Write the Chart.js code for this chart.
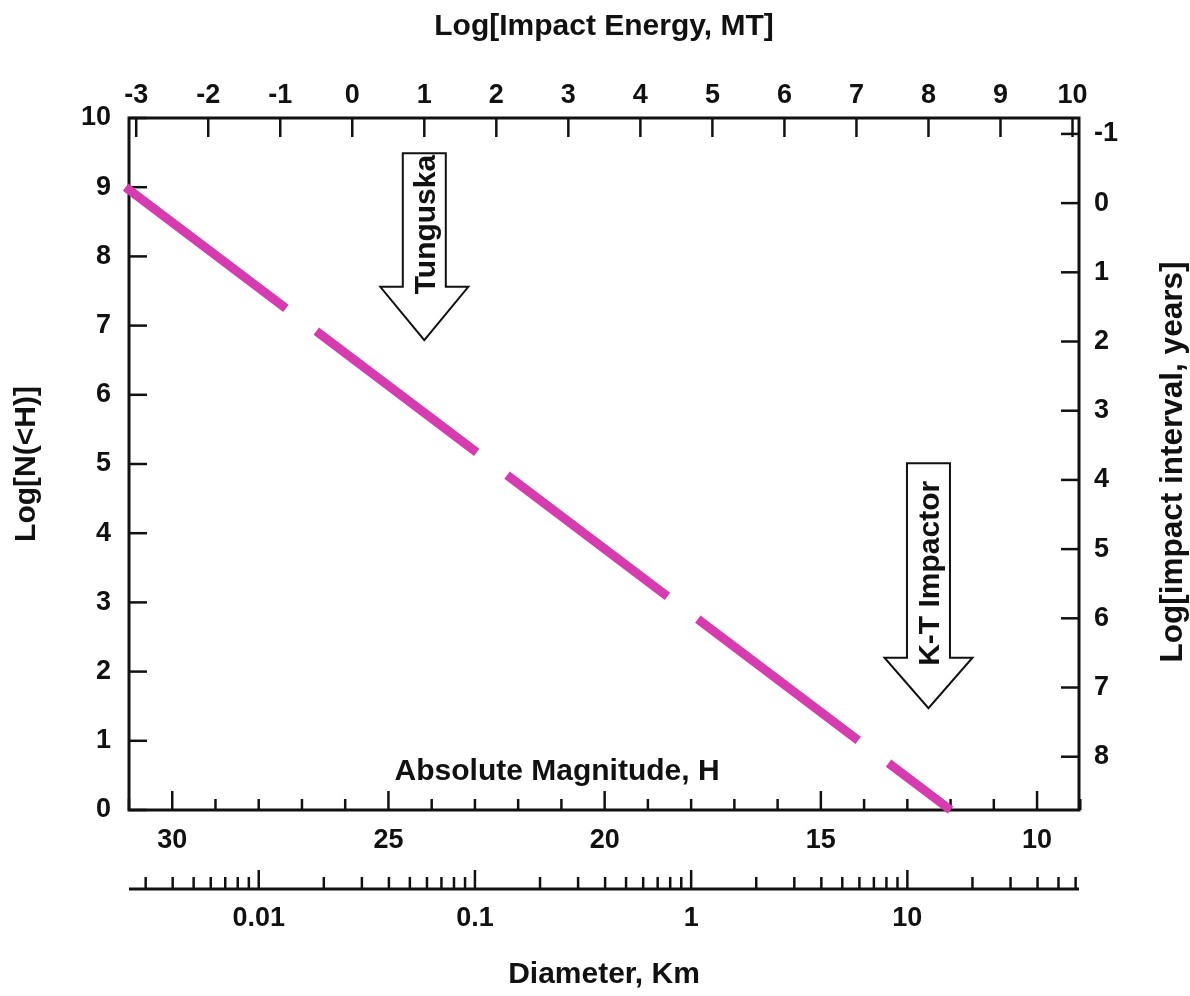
<!DOCTYPE html>
<html>
<head>
<meta charset="utf-8">
<title>Impact frequency vs magnitude</title>
<script src="https://cdn.jsdelivr.net/npm/chart.js@4/dist/chart.umd.min.js"></script>
<style>
  html, body { margin: 0; padding: 0; background: #fff; }
  #chart { display: block; }
</style>
</head>
<body>
<canvas id="chart" width="1190" height="996"></canvas>
<script>
(function() {
  'use strict';
  // absolute magnitude H (bottom axis, large values on the left)
  const magnitudeMin = 9.03;
  const magnitudeMax = 31;
  const magnitudeTicks = [30, 25, 20, 15, 10];
  const magnitudeMinorTicks = [31, 29, 28, 27, 26, 24, 23, 22, 21, 19, 18, 17, 16, 14, 13, 12, 11, 9];
  // diameter in km (second bottom axis, log)
  const diameterMin = 0.002512;
  const diameterMax = 62.2;
  const diameterTicks = [0.01, 0.1, 1, 10];
  const diameterLabels = ['0.01', '0.1', '1', '10'];
  const diameterMinorSteps = [2, 3, 4, 5, 6, 7, 8, 9];
  // impact energy (top axis)
  const energyMin = -3.1;
  const energyMax = 10.09;
  const energyTicks = [-3, -2, -1, 0, 1, 2, 3, 4, 5, 6, 7, 8, 9, 10];
  // cumulative number (left axis)
  const countTicks = [0, 1, 2, 3, 4, 5, 6, 7, 8, 9, 10];
  // impact interval (right axis, increasing downward)
  const intervalMin = -1.23;
  const intervalMax = 8.77;
  const intervalTicks = [-1, 0, 1, 2, 3, 4, 5, 6, 7, 8];
  // dashed trend line: H and Log N
  const lineH = [31.08, 12.0];
  const lineN = [9, 0];
  // arrows: label, energy, top / head base / tip / label centre in Log N
  const arrowNames = ['Tunguska', 'K-T Impactor'];
  const arrowEnergy = [1, 8];
  const arrowTopN = [9.49, 5.01];
  const arrowBaseN = [7.56, 2.2];
  const arrowTipN = [6.79, 1.47];
  const arrowLabelN = [8.46, 3.42];
  // in-plot label for the H axis
  const magnitudeTitleH = 21.1;
  const magnitudeTitleN = 0.55;

  const fontFamily = "'Liberation Sans', Arial, Helvetica, sans-serif";
  const ink = '#111';
  const tickFont = { family: fontFamily, size: 27, weight: 'bold' };
  const titleFont = { family: fontFamily, size: 30, weight: 'bold' };

  Chart.defaults.font.family = fontFamily;
  Chart.defaults.color = ink;

  // common tick settings
  function tickOptions(padding, values, labels) {
    return {
      padding: padding,
      font: tickFont,
      color: ink,
      autoSkip: false,
      maxRotation: 0,
      minRotation: 0,
      callback: function(value) {
        const i = values.indexOf(value);
        if (i < 0) {
          return '';
        }
        return labels ? labels[i] : String(value);
      }
    };
  }

  function fixedTicks(values) {
    return function(scale) {
      scale.ticks = values.map(function(v) { return { value: v }; });
    };
  }

  function noGrid() {
    return { display: false, drawTicks: false };
  }

  // line segment helper
  function seg(ctx, x1, y1, x2, y2) {
    ctx.beginPath();
    ctx.moveTo(x1, y1);
    ctx.lineTo(x2, y2);
    ctx.stroke();
  }

  // build the minor ticks of the log diameter axis
  const diameterMinorTicks = [];
  [0.001, 0.01, 0.1, 1, 10].forEach(function(decade) {
    diameterMinorSteps.forEach(function(s) {
      const v = decade * s;
      if (v > diameterMin && v < diameterMax) {
        diameterMinorTicks.push(v);
      }
    });
  });

  // ticks pointing inward, frame, arrows and in-plot text
  const marksPlugin = {
    id: 'marks',
    beforeDatasetsDraw: function(chart) {
      const ctx = chart.ctx;
      const area = chart.chartArea;
      const s = chart.scales;
      ctx.save();
      ctx.strokeStyle = ink;
      ctx.lineCap = 'butt';
      ctx.lineWidth = 2.5;

      countTicks.forEach(function(v) {
        const y = s.y.getPixelForValue(v);
        seg(ctx, area.left, y, area.left + 18, y);
      });
      intervalTicks.forEach(function(v) {
        const y = s.yR.getPixelForValue(v);
        seg(ctx, area.right, y, area.right - 18, y);
      });
      energyTicks.forEach(function(v) {
        const x = s.xTop.getPixelForValue(v);
        seg(ctx, x, area.top, x, area.top + 19);
      });
      magnitudeTicks.forEach(function(v) {
        const x = s.x.getPixelForValue(v);
        seg(ctx, x, area.bottom, x, area.bottom - 19);
      });
      magnitudeMinorTicks.forEach(function(v) {
        const x = s.x.getPixelForValue(v);
        seg(ctx, x, area.bottom, x, area.bottom - 11);
      });

      // diameter axis
      const dy = s.xD.top;
      diameterTicks.forEach(function(v) {
        const x = s.xD.getPixelForValue(v);
        seg(ctx, x, dy, x, dy - 19);
      });
      diameterMinorTicks.forEach(function(v) {
        const x = s.xD.getPixelForValue(v);
        seg(ctx, x, dy, x, dy - 12);
      });
      ctx.lineWidth = 3;
      seg(ctx, area.left, dy, area.right, dy);

      // plot frame
      ctx.strokeRect(area.left, area.top, area.width, area.height);

      // arrows
      ctx.lineWidth = 2;
      ctx.fillStyle = '#fff';
      arrowNames.forEach(function(name, i) {
        const cx = s.xTop.getPixelForValue(arrowEnergy[i]);
        const top = s.y.getPixelForValue(arrowTopN[i]);
        const base = s.y.getPixelForValue(arrowBaseN[i]);
        const tip = s.y.getPixelForValue(arrowTipN[i]);
        const shaft = 21.5;
        const head = 44;
        ctx.beginPath();
        ctx.moveTo(cx - shaft, top);
        ctx.lineTo(cx + shaft, top);
        ctx.lineTo(cx + shaft, base);
        ctx.lineTo(cx + head, base);
        ctx.lineTo(cx, tip);
        ctx.lineTo(cx - head, base);
        ctx.lineTo(cx - shaft, base);
        ctx.closePath();
        ctx.fill();
        ctx.stroke();

        ctx.save();
        ctx.translate(cx + 2, s.y.getPixelForValue(arrowLabelN[i]));
        ctx.rotate(-Math.PI / 2);
        ctx.fillStyle = ink;
        ctx.font = 'bold 30px ' + fontFamily;
        ctx.textAlign = 'center';
        ctx.textBaseline = 'middle';
        ctx.fillText(name, 0, 0);
        ctx.restore();
      });

      // H axis title sits inside the plot
      ctx.fillStyle = ink;
      ctx.font = 'bold 30px ' + fontFamily;
      ctx.textAlign = 'center';
      ctx.textBaseline = 'middle';
      ctx.fillText('Absolute Magnitude, H',
        s.x.getPixelForValue(magnitudeTitleH), s.y.getPixelForValue(magnitudeTitleN));
      ctx.restore();
    },
    afterDraw: function(chart) {
      // right title reads bottom to top
      const ctx = chart.ctx;
      const area = chart.chartArea;
      ctx.save();
      ctx.translate(area.right + 94, (area.top + area.bottom) / 2 - 2);
      ctx.rotate(-Math.PI / 2);
      ctx.fillStyle = ink;
      ctx.font = 'bold 31.5px ' + fontFamily;
      ctx.textAlign = 'center';
      ctx.textBaseline = 'middle';
      ctx.fillText('Log[impact interval, years]', 0, 0);
      ctx.restore();
    }
  };

  const points = lineH.map(function(h, i) { return { x: h, y: lineN[i] }; });

  new Chart(document.getElementById('chart').getContext('2d'), {
    type: 'scatter',
    data: {
      datasets: [{
        data: points,
        xAxisID: 'x',
        yAxisID: 'y',
        showLine: true,
        fill: false,
        borderColor: '#d63bb0',
        borderWidth: 9,
        borderDash: [201, 38],
        borderCapStyle: 'butt',
        pointRadius: 0,
        pointHoverRadius: 0,
        clip: false,
      }],
    },
    options: {
      responsive: false,
      animation: false,
      events: [],
      layout: { padding: 0 },
      plugins: {
        legend: { display: false },
        tooltip: { enabled: false },
      },
      scales: {
        x: {
          type: 'linear',
          position: 'bottom',
          weight: 0,
          reverse: true,
          min: magnitudeMin,
          max: magnitudeMax,
          grid: noGrid(),
          border: { display: false },
          ticks: tickOptions(14, magnitudeTicks),
          afterBuildTicks: fixedTicks(magnitudeTicks),
          afterFit: function(scale) { scale.height = 79; },
        },
        xD: {
          type: 'logarithmic',
          position: 'bottom',
          weight: 1,
          min: diameterMin,
          max: diameterMax,
          grid: noGrid(),
          border: { display: false },
          ticks: tickOptions(13, diameterTicks, diameterLabels),
          afterBuildTicks: fixedTicks(diameterTicks),
          afterFit: function(scale) { scale.height = 107; },
          title: {
            display: true,
            text: 'Diameter, Km',
            font: titleFont,
            color: ink,
            padding: { top: 0, bottom: 3 },
          },
        },
        xTop: {
          type: 'linear',
          position: 'top',
          min: energyMin,
          max: energyMax,
          grid: noGrid(),
          border: { display: false },
          ticks: tickOptions(6, energyTicks),
          afterBuildTicks: fixedTicks(energyTicks),
          afterFit: function(scale) { scale.height = 118; },
          title: {
            display: true,
            text: 'Log[Impact Energy, MT]',
            font: titleFont,
            color: ink,
            padding: { top: 9, bottom: 0 },
          },
        },
        y: {
          type: 'linear',
          position: 'left',
          min: 0,
          max: 10,
          grid: noGrid(),
          border: { display: false },
          ticks: tickOptions(18, countTicks),
          afterBuildTicks: fixedTicks(countTicks),
          afterFit: function(scale) { scale.width = 129; },
          title: {
            display: true,
            text: 'Log[N(<H)]',
            font: titleFont,
            color: ink,
            padding: { top: 9, bottom: 0 },
          },
        },
        yR: {
          type: 'linear',
          position: 'right',
          reverse: true,
          min: intervalMin,
          max: intervalMax,
          grid: noGrid(),
          border: { display: false },
          ticks: tickOptions(15, intervalTicks),
          afterBuildTicks: fixedTicks(intervalTicks),
          afterFit: function(scale) { scale.width = 111; },
        },
      },
    },
    plugins: [marksPlugin],
  });
})();
</script>
</body>
</html>
